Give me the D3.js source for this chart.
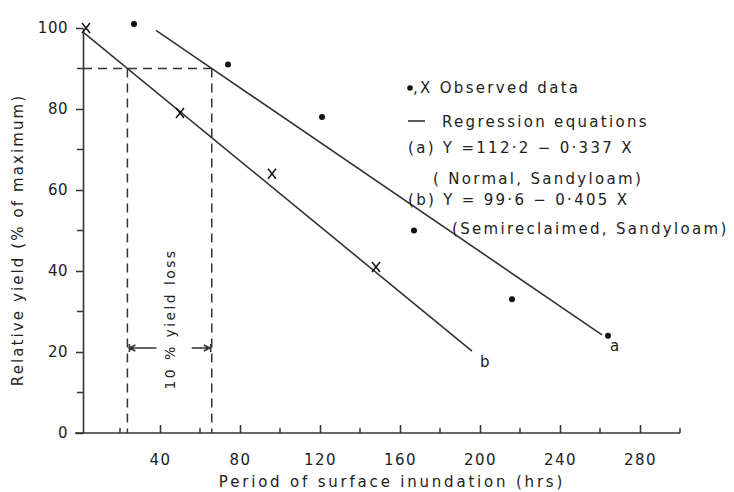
<!DOCTYPE html>
<html>
<head>
<meta charset="utf-8">
<script src="https://cdn.jsdelivr.net/npm/d3@7"></script>
<style>
  body { margin: 0; background: #fff; }
  text { font-family: "DejaVu Sans", sans-serif; fill: #222; }
</style>
</head>
<body>
<div id="wrapper"></div>
<script>
// observed data, series a (dots): normal sandy loam
const hoursA = [27, 74, 121, 167, 216, 264]
const yieldA = [101, 91, 78, 50, 33, 24]
// observed data, series b (X): semireclaimed sandy loam
const hoursB = [3, 50, 96, 148]
const yieldB = [100, 79, 64, 41]
// regression fits: intercept, slope, x range drawn
const lineNames = ["a", "b"]
const intercepts = [112.2, 99.6]
const slopes = [-0.337, -0.405]
const lineStarts = [38, 2]
const lineEnds = [261, 196]
// 10% loss marks
const lossLevel = 90
const xMajorTicks = [40, 80, 120, 160, 200, 240, 280]
const xMinorTicks = [20, 60, 100, 140, 180, 220, 260, 300]
const yMajorTicks = [0, 20, 40, 60, 80, 100]
const yMinorTicks = [10, 30, 50, 70, 90]

const width = 734, height = 492
const svg = d3.select("#wrapper").append("svg")
    .attr("width", width).attr("height", height)

const x = d3.scaleLinear().domain([0, 300]).range([80, 680])
const y = d3.scaleLinear().domain([0, 100]).range([433, 28])

const ink = "#333"

// axes
const xAxis = svg.append("g")
    .attr("transform", `translate(0,${y(0)})`)
    .call(d3.axisBottom(x).tickValues(xMajorTicks).tickSize(-8).tickSizeOuter(0).tickPadding(21))
xAxis.select(".domain").attr("stroke", ink).attr("stroke-width", 1.6)
    .attr("d", `M${x(0) - 5},0H${x(300)}`)
xAxis.selectAll(".tick line").attr("stroke", ink).attr("stroke-width", 1.6)
xAxis.selectAll(".tick text").attr("font-size", 15).attr("letter-spacing", 1.5).attr("fill", ink)
xAxis.selectAll(".minor").data(xMinorTicks).join("line")
    .attr("x1", d => x(d)).attr("x2", d => x(d))
    .attr("y1", 0).attr("y2", -5)
    .attr("stroke", ink).attr("stroke-width", 1.5)

const yAxis = svg.append("g")
    .attr("transform", `translate(${x(0) + 3},0)`)
    .call(d3.axisLeft(y).tickValues(yMajorTicks).tickSize(7).tickSizeOuter(0).tickPadding(8))
yAxis.select(".domain").attr("stroke", ink).attr("stroke-width", 1.6)
yAxis.selectAll(".tick line").attr("stroke", ink).attr("stroke-width", 1.5)
yAxis.selectAll(".tick text").attr("font-size", 15).attr("letter-spacing", 0.5).attr("fill", ink)
yAxis.selectAll(".minor").data(yMinorTicks).join("line")
    .attr("x1", 0).attr("x2", -6)
    .attr("y1", d => y(d)).attr("y2", d => y(d))
    .attr("stroke", ink).attr("stroke-width", 1.5)

svg.append("text")
    .attr("x", 392).attr("y", 487)
    .attr("text-anchor", "middle")
    .attr("font-size", 15).attr("letter-spacing", 2.8)
    .text("Period of surface inundation (hrs)")

svg.append("text")
    .attr("transform", `translate(23,${240}) rotate(-90)`)
    .attr("text-anchor", "middle")
    .attr("font-size", 15).attr("letter-spacing", 2.1)
    .text("Relative yield (% of maximum)")

// dashed guides at 10% yield loss
const lossX = intercepts.map((b, i) => (lossLevel - b) / slopes[i])
const dash = "9,6"
svg.append("line")
    .attr("x1", x(0) + 3).attr("x2", x(lossX[0]))
    .attr("y1", y(lossLevel)).attr("y2", y(lossLevel))
    .attr("stroke", ink).attr("stroke-width", 1.5).attr("stroke-dasharray", dash)
svg.selectAll(".vguide").data(lossX).join("line")
    .attr("x1", d => x(d)).attr("x2", d => x(d))
    .attr("y1", y(lossLevel)).attr("y2", y(0))
    .attr("stroke", ink).attr("stroke-width", 1.5).attr("stroke-dasharray", dash)

// arrows between the guides
const arrowY = y(21)
const xl = x(lossX[1]), xr = x(lossX[0])
svg.append("path")
    .attr("d", `M${xl + 29},${arrowY}H${xl + 2}M${xl + 8},${arrowY - 3}L${xl + 2},${arrowY}L${xl + 8},${arrowY + 3}M${xl + 2},${arrowY - 4}V${arrowY + 4}`)
    .attr("stroke", ink).attr("stroke-width", 1.6).attr("fill", "none")
svg.append("path")
    .attr("d", `M${xr - 20},${arrowY}H${xr - 2}M${xr - 8},${arrowY - 3}L${xr - 2},${arrowY}L${xr - 8},${arrowY + 3}M${xr - 1},${arrowY - 4}V${arrowY + 4}`)
    .attr("stroke", ink).attr("stroke-width", 1.6).attr("fill", "none")
svg.append("text")
    .attr("transform", `translate(${(xl + xr) / 2 + 5},${319}) rotate(-90)`)
    .attr("text-anchor", "middle")
    .attr("font-size", 14).attr("letter-spacing", 2.4)
    .text("10 % yield loss")

// regression lines
const fit = lineNames.map((n, i) => ({
  name: n,
  pts: [lineStarts[i], lineEnds[i]].map(h => [h, intercepts[i] + slopes[i] * h])
}))
const lineGen = d3.line().x(d => x(d[0])).y(d => y(d[1]))
svg.selectAll(".fit").data(fit).join("path")
    .attr("d", d => lineGen(d.pts))
    .attr("stroke", ink).attr("stroke-width", 1.6).attr("fill", "none")
svg.selectAll(".fitlabel").data(fit).join("text")
    .attr("x", d => x(d.pts[1][0]) + 8)
    .attr("y", d => y(d.pts[1][1]) + 16)
    .attr("font-size", 15)
    .text(d => d.name)

// observed points
svg.selectAll(".dotA").data(hoursA).join("circle")
    .attr("cx", d => x(d)).attr("cy", (d, i) => y(yieldA[i]))
    .attr("r", 3).attr("fill", "#111")
svg.selectAll(".crossB").data(hoursB).join("path")
    .attr("d", (d, i) => {
      const cx = x(d), cy = y(yieldB[i])
      return `M${cx - 4},${cy - 5}L${cx + 4},${cy + 5}M${cx + 4},${cy - 5}L${cx - 4},${cy + 5}`
    })
    .attr("stroke", "#111").attr("stroke-width", 1.5)

// legend
const legend = svg.append("g").attr("font-size", 15).attr("letter-spacing", 2.3)
legend.append("circle").attr("cx", 410).attr("cy", 88).attr("r", 2.8).attr("fill", "#111")
legend.append("text").attr("x", 413).attr("y", 93).text(",X Observed data")
legend.append("line").attr("x1", 408).attr("x2", 425).attr("y1", 121).attr("y2", 121)
    .attr("stroke", ink).attr("stroke-width", 1.6)
legend.append("text").attr("x", 442).attr("y", 127).text("Regression equations")
legend.append("text").attr("x", 408).attr("y", 153).text("(a) Y =112·2 − 0·337 X")
legend.append("text").attr("x", 433).attr("y", 184).text("( Normal, Sandyloam)")
legend.append("text").attr("x", 408).attr("y", 205).text("(b) Y = 99·6 − 0·405 X")
legend.append("text").attr("x", 452).attr("y", 234).text("(Semireclaimed, Sandyloam)")
</script>
</body>
</html>
